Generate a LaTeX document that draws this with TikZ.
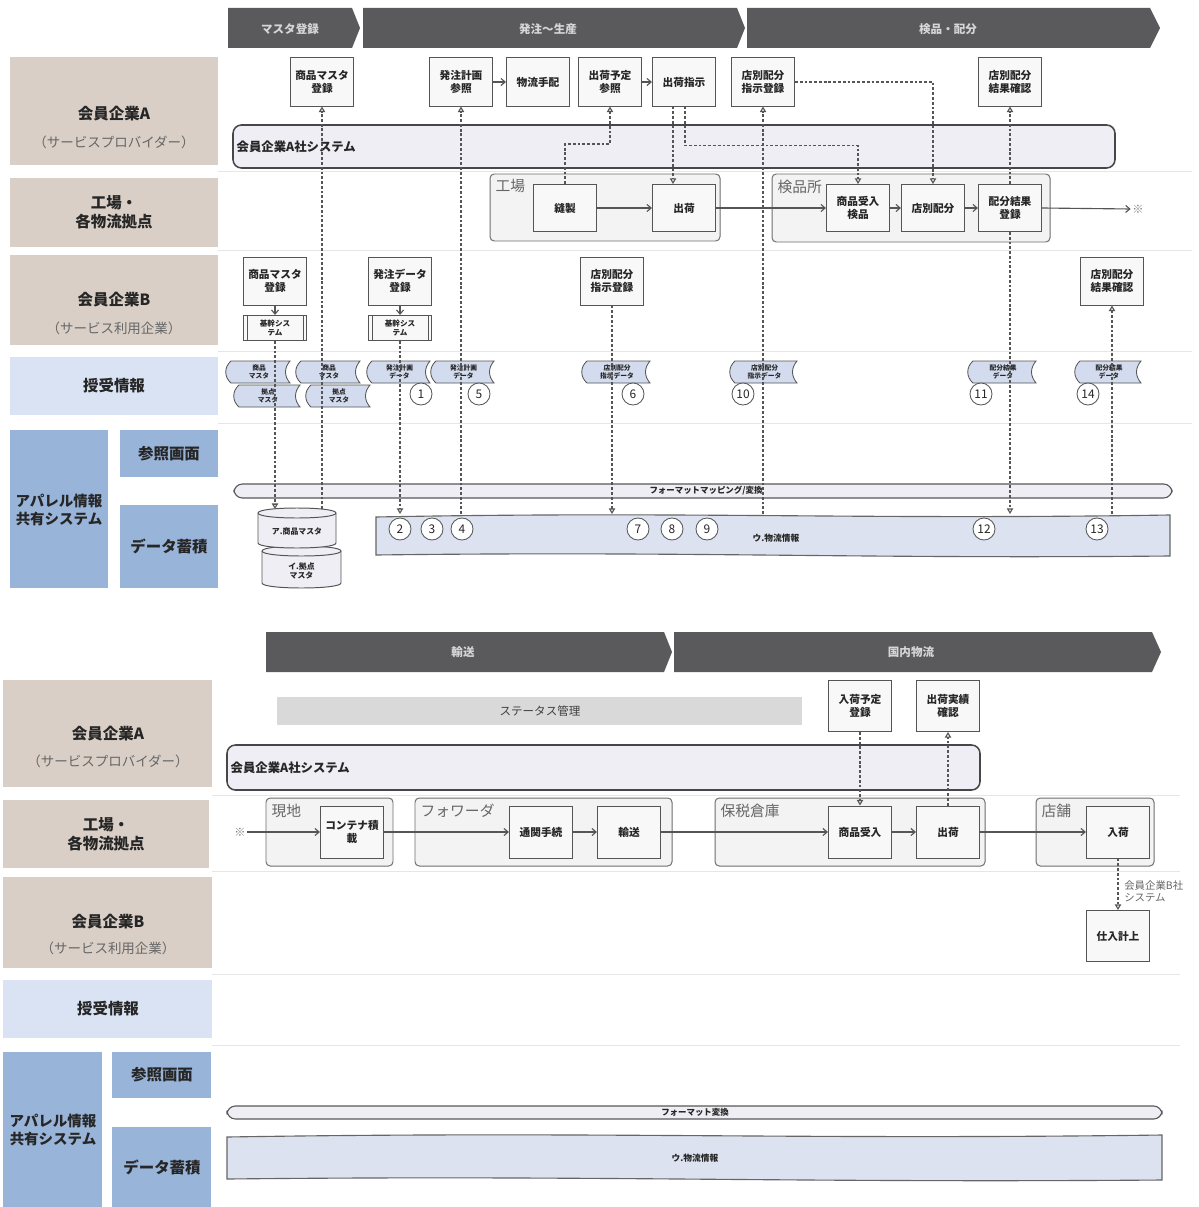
\documentclass[tikz,border=0pt]{standalone}
\usepackage{fontspec}
\setmainfont{Noto Sans CJK JP}
\usetikzlibrary{arrows.meta,calc}

\definecolor{hdrgray}{HTML}{5A5A5C}
\definecolor{hdrfont}{HTML}{D6D6D6}
\definecolor{beige}{HTML}{D9CFC7}
\definecolor{paleblue}{HTML}{DAE3F3}
\definecolor{midblue}{HTML}{98B4D8}
\definecolor{sysfill}{HTML}{EEEEF4}
\definecolor{edge}{HTML}{555555}
\definecolor{grpfill}{HTML}{F3F3F3}
\definecolor{boxfill}{HTML}{F8F8F8}
\definecolor{docfill}{HTML}{D3DBEE}
\definecolor{storefill}{HTML}{DCE2F0}
\definecolor{laneline}{HTML}{E6E6E6}
\definecolor{ink}{HTML}{262626}
\definecolor{statusfill}{HTML}{D9D9D9}

\newcommand\setfs[2]{\fontsize{#1}{#2}\selectfont}

\tikzset{
  box/.style={draw=edge, fill=boxfill, line width=0.7pt, minimum width=1.575cm,
    minimum height=1.2cm, inner sep=1pt, align=center,
    font=\bfseries\setfs{7.6}{9.4}, text=ink},
  sysbox/.style={box, minimum height=0.625cm, font=\bfseries\setfs{5.4}{6.4}},
  flow/.style={draw=edge, line width=0.8pt, -{Straight Barb[length=3pt,width=5pt]}},
  link/.style={draw=edge, line width=0.8pt, dash pattern=on 2pt off 1.4pt},
  opentip/.style={-{Triangle[open,length=4pt,width=4.5pt]}},
  num/.style={circle, draw=edge, fill=white, line width=0.6pt, minimum size=0.55cm,
    inner sep=0pt, font=\setfs{8.5}{8.5}, text=ink},
  lanetxt/.style={font=\bfseries\setfs{11}{13.5}, text=ink, align=center},
  lanesub/.style={font=\setfs{9.6}{11}, text=black!60},
  grp/.style={draw=edge!85, fill=grpfill, line width=0.7pt, rounded corners=3pt},
  grplbl/.style={anchor=north west, font=\setfs{10.5}{12}, text=black!60, inner sep=1pt},
  systxt/.style={font=\bfseries\setfs{8.8}{10}, anchor=west, inner sep=1pt, text=ink},
  sysbar/.style={draw=black!72, line width=1.1pt, fill=sysfill, rounded corners=6pt},
  fmtbar/.style={draw=black!65, line width=0.8pt, fill=sysfill, rounded corners=6pt},
  fmttxt/.style={font=\bfseries\setfs{6}{7}, text=ink, inner sep=0pt},
  hdrlabel/.style={font=\bfseries\setfs{8.2}{9}, text=hdrfont},
  doctxt/.style={font=\bfseries\setfs{4.8}{5.4}, align=center, text=ink, inner sep=0pt},
  docshape/.style={draw=edge, fill=docfill, line width=0.6pt},
  cylshape/.style={draw=edge, fill=sysfill, line width=0.7pt},
  storeshape/.style={draw=black!60, fill=storefill, line width=0.8pt},
  lanesep/.style={draw=laneline, line width=0.6pt},
  endmark/.style={font=\setfs{8}{8}, text=black!50, inner sep=1pt},
}

% tape-shaped data document: x1 y1 x2 y2 name text
\newcommand\tapedoc[6]{%
  \filldraw[docshape] ({#1+5},#2) -- (#3,#2)
    .. controls ({#3-6},{#2+7}) and ({#3-6},{#4-7}) .. (#3,#4)
    -- ({#1+5},#4)
    .. controls ({#1-2},{#4-6}) and ({#1-2},{#2+6}) .. ({#1+5},#2) -- cycle;
  \node[doctxt] (#5) at ({(#1+#3)/2+1},{(#2+#4)/2}) {#6};}

% drum-shaped master store: x1 y1 x2 y2 name text
\newcommand\drumstore[6]{%
  \filldraw[cylshape] (#1,{#2+5}) -- (#1,{#4-5})
    .. controls (#1,{#4+1.67}) and (#3,{#4+1.67}) .. (#3,{#4-5})
    -- (#3,{#2+5})
    .. controls (#3,{#2-1.67}) and (#1,{#2-1.67}) .. (#1,{#2+5}) -- cycle;
  \draw[cylshape, fill=none] (#1,{#2+5})
    .. controls (#1,{#2+11.67}) and (#3,{#2+11.67}) .. (#3,{#2+5});
  \node[doctxt, font=\bfseries\setfs{5.6}{6.6}] (#5) at ({(#1+#3)/2},{(#2+#4)/2+4}) {#6};}

% wavy storage band: x1 y1 x2 y2
\newcommand\storebar[4]{%
  \filldraw[storeshape] (#1,{#2+2})
    .. controls ({#1+(#3-#1)*0.4},{#2-4}) and ({#1+(#3-#1)*0.6},{#2+5}) .. (#3,#2)
    -- (#3,#4)
    .. controls ({#1+(#3-#1)*0.6},{#4+3}) and ({#1+(#3-#1)*0.4},{#4-5}) .. (#1,{#4-1})
    -- cycle;}

\begin{document}
\begin{tikzpicture}[x=0.025cm,y=-0.025cm]
\useasboundingbox (0,0) rectangle (1198,1207);
\fill[white] (0,0) rectangle (1198,1207);

% ================= upper sheet =================
% phase headers
\fill[hdrgray] (228,8) -- (352,8) -- (360,28) -- (352,48) -- (228,48) -- cycle;
\fill[hdrgray] (363,8) -- (737,8) -- (745,28) -- (737,48) -- (363,48) -- cycle;
\fill[hdrgray] (747,8) -- (1150,8) -- (1160,28) -- (1150,48) -- (747,48) -- cycle;
\node[hdrlabel] (h1) at (290,29) {マスタ登録};
\node[hdrlabel] (h2) at (548,29) {発注～生産};
\node[hdrlabel] (h3) at (948,29) {検品・配分};

% swim-lane separators
\draw[lanesep] (218,171) -- (1192,171);
\draw[lanesep] (218,250) -- (1192,250);
\draw[lanesep] (218,351) -- (1192,351);
\draw[lanesep] (218,423) -- (1192,423);

% lane titles
\fill[beige] (10,57) rectangle (218,165);
\node[lanetxt] (laneA) at (114,114) {会員企業A};
\node[lanesub] (laneAsub) at (114,142) {（サービスプロバイダー）};
\fill[beige] (10,178) rectangle (218,247);
\node[lanetxt] (laneF) at (114,212) {工場・\\各物流拠点};
\fill[beige] (10,255) rectangle (218,345);
\node[lanetxt] (laneB) at (114,300) {会員企業B};
\node[lanesub] (laneBsub) at (114,328) {（サービス利用企業）};
\fill[paleblue] (10,357) rectangle (218,415);
\node[lanetxt] (laneX) at (114,386) {授受情報};
\fill[midblue] (10,430) rectangle (108,588);
\node[lanetxt, font=\bfseries\setfs{10.3}{13}] (laneS) at (59,510) {アパレル情報\\共有システム};
\fill[midblue] (120,430) rectangle (218,477);
\node[lanetxt] (laneR) at (169,454) {参照画面};
\fill[midblue] (120,505) rectangle (218,588);
\node[lanetxt] (laneD) at (169,546) {データ蓄積};

% company A system band
\draw[sysbar] (233,125) rectangle (1115,168);
\node[systxt] (sysA) at (235,147) {会員企業A社システム};

% site groups
\draw[grp] (490,174) rectangle (720,241);
\node[grplbl] (gFac) at (494,178) {工場};
\draw[grp] (772,174) rectangle (1050,242);
\node[grplbl] (gIns) at (776,178) {検品所};

% shared system: format band, stores
\draw[fmtbar] (234,484) rectangle (1172,498);
\node[fmttxt] (fmt1) at (706,491) {フォーマットマッピング/変換};
\storebar{376}{515}{1170}{556}
\node[fmttxt, font=\bfseries\setfs{6.2}{7}] (store1) at (776,538) {ウ.物流情報};
\coordinate (storeTop) at (700,514);
\drumstore{262}{546}{341}{588}{cylB}{イ.拠点\\マスタ}
\drumstore{258}{508}{336}{548}{cylA}{ア.商品マスタ}
\coordinate (cylAtop) at (297,509);

% exchanged data
\tapedoc{226}{361}{290}{383}{dx1}{商品\\マスタ}
\tapedoc{234}{385}{300}{407}{dx2}{拠点\\マスタ}
\tapedoc{296}{361}{360}{383}{dx3}{商品\\マスタ}
\tapedoc{306}{385}{370}{407}{dx4}{拠点\\マスタ}
\tapedoc{367}{361}{430}{383}{dx5}{発注計画\\データ}
\tapedoc{431}{361}{494}{383}{dx6}{発注計画\\データ}
\tapedoc{582}{361}{650}{383}{dx7}{店別配分\\指示データ}
\tapedoc{730}{361}{797}{383}{dx8}{店別配分\\指示データ}
\tapedoc{968}{361}{1036}{383}{dx9}{配分結果\\データ}
\tapedoc{1075}{361}{1141}{383}{dx10}{配分結果\\データ}

% process boxes, company A
\node[box] (mA1) at (322,82) {商品マスタ\\登録};
\node[box] (mA2) at (461,82) {発注計画\\参照};
\node[box] (mA3) at (538,82) {物流手配};
\node[box] (mA4) at (610,82) {出荷予定\\参照};
\node[box] (mA5) at (684,82) {出荷指示};
\node[box] (mA6) at (763,82) {店別配分\\指示登録};
\node[box] (mA7) at (1010,82) {店別配分\\結果確認};

% factory and inspection site
\node[box, minimum height=1.175cm] (f1) at (565,208) {縫製};
\node[box, minimum height=1.175cm] (f2) at (684,208) {出荷};
\node[box, minimum height=1.175cm] (f3) at (858,208) {商品受入\\検品};
\node[box, minimum height=1.175cm] (f4) at (933,208) {店別配分};
\node[box, minimum height=1.175cm] (f5) at (1010,208) {配分結果\\登録};
\node[endmark] (fEnd) at (1138,209) {※};

% company B
\node[box] (b1) at (275,281) {商品マスタ\\登録};
\node[sysbox] (b1s) at (275,328) {基幹シス\\テム};
\node[box] (b2) at (400,281) {発注データ\\登録};
\node[sysbox] (b2s) at (400,328) {基幹シス\\テム};
\node[box] (b3) at (612,281) {店別配分\\指示登録};
\node[box] (b4) at (1112,281) {店別配分\\結果確認};
\foreach \s in {b1s,b2s}{
  \draw[edge, line width=0.6pt] ([xshift=0.1cm]\s.north west) -- ([xshift=0.1cm]\s.south west);
  \draw[edge, line width=0.6pt] ([xshift=-0.1cm]\s.north east) -- ([xshift=-0.1cm]\s.south east);
}

% data links
\draw[link, opentip] (b1s.south) -- (b1s.south |- cylAtop);
\draw[link, opentip] (cylAtop -| mA1) -- (mA1.south);
\draw[link, opentip] (b2s.south) -- (b2s.south |- storeTop);
\draw[link, opentip] (storeTop -| mA2) -- (mA2.south);
\draw[link, opentip] (b3.south) -- (b3.south |- storeTop);
\draw[link, opentip] (storeTop -| mA6) -- (mA6.south);
\draw[link, opentip] (f1.north) -- ++(0,-40) -| (mA4.south);
\coordinate (a5l) at ([xshift=-0.275cm]mA5.south);
\coordinate (a5r) at ([xshift=0.025cm]mA5.south);
\draw[link, opentip] (a5l) -- (a5l |- f2.north);
\draw[link, opentip] (a5r) -- ++(0,39) -| (f3.north);
\draw[link, opentip] (mA6.east) -| (f4.north);
\draw[link, opentip] (f5.north) -- (mA7.south);
\draw[link, opentip] (f5.south) -- (f5.south |- storeTop);
\draw[link, opentip] (storeTop -| b4) -- (b4.south);

% goods flow
\draw[flow] (mA2.east) -- (mA3.west);
\draw[flow] (mA4.east) -- (mA5.west);
\draw[flow] (f1.east) -- (f2.west);
\draw[flow] (f2.east) -- (f3.west);
\draw[flow] (f3.east) -- (f4.west);
\draw[flow] (f4.east) -- (f5.west);
\draw[flow] (f5.east) -- (fEnd.west);
\draw[flow] (b1.south) -- (b1s.north);
\draw[flow] (b2.south) -- (b2s.north);

% numbered steps
\node[num] (n1) at (421,394) {1};
\node[num] (n5) at (479,394) {5};
\node[num] (n6) at (633,394) {6};
\node[num] (n10) at (743,394) {10};
\node[num] (n11) at (981,394) {11};
\node[num] (n14) at (1088,394) {14};
\node[num] (n2) at (400,529) {2};
\node[num] (n3) at (432,529) {3};
\node[num] (n4) at (462,529) {4};
\node[num] (n7) at (638,529) {7};
\node[num] (n8) at (672,529) {8};
\node[num] (n9) at (707,529) {9};
\node[num] (n12) at (984,529) {12};
\node[num] (n13) at (1097,529) {13};

% ================= lower sheet =================
\fill[hdrgray] (266,632) -- (664,632) -- (672,652) -- (664,672) -- (266,672) -- cycle;
\fill[hdrgray] (674,632) -- (1152,632) -- (1161,652) -- (1152,672) -- (674,672) -- cycle;
\node[hdrlabel] (h4) at (463,652) {輸送};
\node[hdrlabel] (h5) at (911,652) {国内物流};

\draw[lanesep] (212,795) -- (1180,795);
\draw[lanesep] (212,871) -- (1180,871);
\draw[lanesep] (212,974) -- (1180,974);
\draw[lanesep] (212,1045) -- (1180,1045);

\fill[beige] (3,680) rectangle (212,787);
\node[lanetxt] (laneA2) at (108,734) {会員企業A};
\node[lanesub] (laneA2sub) at (108,761) {（サービスプロバイダー）};
\fill[beige] (3,800) rectangle (209,868);
\node[lanetxt] (laneF2) at (106,834) {工場・\\各物流拠点};
\fill[beige] (3,877) rectangle (212,968);
\node[lanetxt] (laneB2) at (108,922) {会員企業B};
\node[lanesub] (laneB2sub) at (108,948) {（サービス利用企業）};
\fill[paleblue] (3,980) rectangle (212,1038);
\node[lanetxt] (laneX2) at (108,1009) {授受情報};
\fill[midblue] (3,1052) rectangle (102,1207);
\node[lanetxt, font=\bfseries\setfs{10.3}{13}] (laneS2) at (53,1130) {アパレル情報\\共有システム};
\fill[midblue] (112,1052) rectangle (211,1098);
\node[lanetxt] (laneR2) at (162,1075) {参照画面};
\fill[midblue] (112,1127) rectangle (211,1207);
\node[lanetxt] (laneD2) at (162,1167) {データ蓄積};

% status band and company A system
\fill[statusfill] (277,697) rectangle (802,725);
\node[font=\setfs{8.2}{9}, text=black!75] (status) at (540,711) {ステータス管理};
\draw[sysbar] (227,745) rectangle (980,790);
\node[systxt] (sysA2) at (229,768) {会員企業A社システム};

% site groups
\draw[grp] (266,798) rectangle (393,866);
\node[grplbl] (gLoc) at (270,802) {現地};
\draw[grp] (415,798) rectangle (672,866);
\node[grplbl] (gFwd) at (419,802) {フォワーダ};
\draw[grp] (715,798) rectangle (985,866);
\node[grplbl] (gBond) at (719,802) {保税倉庫};
\draw[grp] (1036,798) rectangle (1154,866);
\node[grplbl] (gShop) at (1040,802) {店舗};

% shared system bands
\draw[fmtbar] (227,1106) rectangle (1162,1119);
\node[fmttxt] (fmt2) at (695,1112.5) {フォーマット変換};
\storebar{227}{1135}{1162}{1180}
\node[fmttxt, font=\bfseries\setfs{6.2}{7}] (store2) at (695,1158) {ウ.物流情報};

% process boxes
\node[box, minimum height=1.275cm] (r1) at (860,706) {入荷予定\\登録};
\node[box, minimum height=1.275cm] (r2) at (948,706) {出荷実績\\確認};
\node[endmark] (start) at (240,832) {※};
\node[box, minimum height=1.3cm] (c1) at (352,832) {コンテナ積\\載};
\node[box, minimum height=1.3cm] (c2) at (541,832) {通関手続};
\node[box, minimum height=1.3cm] (c3) at (629,832) {輸送};
\node[box, minimum height=1.3cm] (c4) at (860,832) {商品受入};
\node[box, minimum height=1.3cm] (c5) at (948,832) {出荷};
\node[box, minimum height=1.3cm] (c6) at (1118,832) {入荷};
\node[box, minimum height=1.275cm] (p1) at (1118,936) {仕入計上};
\node[anchor=west, align=left, font=\setfs{7.4}{8.6}, text=black!60, inner sep=0pt] (bsys) at (1124,891) {会員企業B社\\システム};

\draw[flow] (start.east) -- (c1.west);
\draw[flow] (c1.east) -- (c2.west);
\draw[flow] (c2.east) -- (c3.west);
\draw[flow] (c3.east) -- (c4.west);
\draw[flow] (c4.east) -- (c5.west);
\draw[flow] (c5.east) -- (c6.west);
\draw[link, opentip] (r1.south) -- (c4.north);
\draw[link, opentip] (c5.north) -- (r2.south);
\draw[link, opentip] (c6.south) -- (p1.north);
\end{tikzpicture}
\end{document}
